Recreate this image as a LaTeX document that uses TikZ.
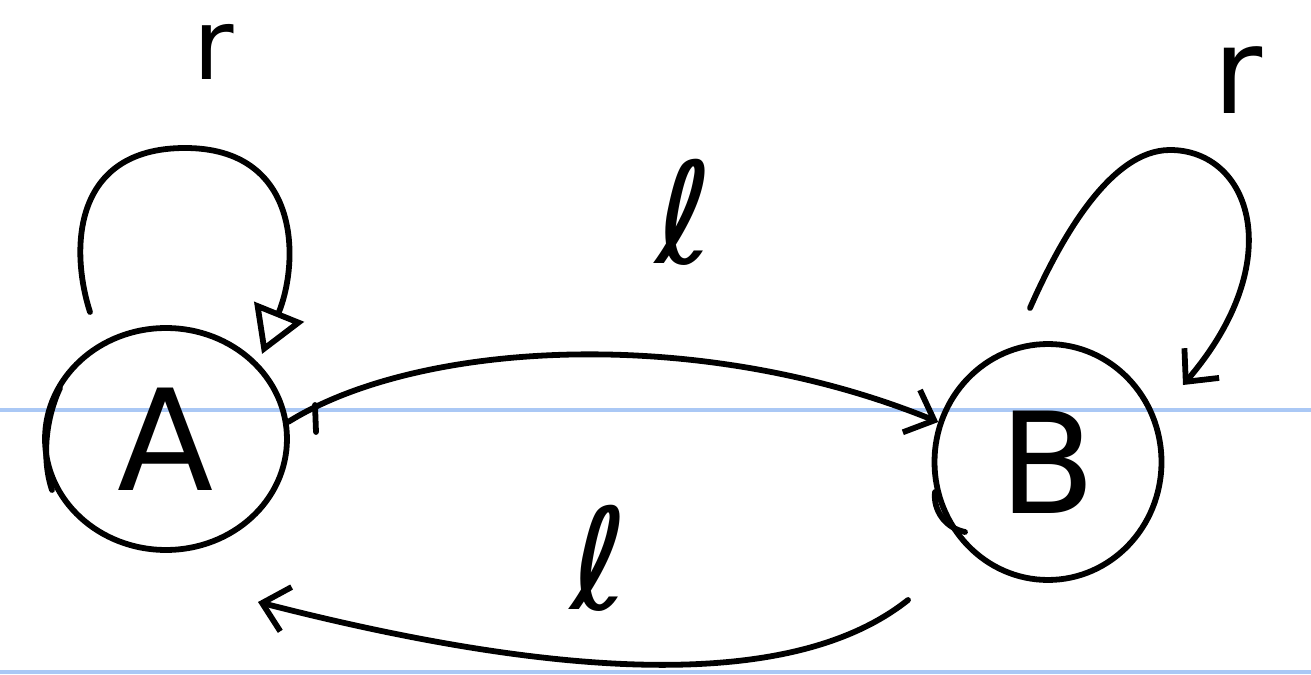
\documentclass[tikz,border=0pt]{standalone}
\usepackage{fontspec}
\setsansfont{DejaVu Sans}
\newfontfamily\lblfont{DejaVu Sans}
\usetikzlibrary{arrows.meta,shapes.geometric}
\tikzset{
  ink/.style={line width=3.3pt, line cap=round, line join=round, black},
  rule/.style={line width=1.8pt, color={rgb,255:red,170;green,200;blue,245}},
  statenode/.style={ink, draw, ellipse, inner sep=0pt, font=\sffamily\fontsize{80}{80}\selectfont},
  rlbl/.style={font=\lblfont\fontsize{56}{56}\selectfont},
  llbl/.style={font=\lblfont\fontsize{80}{80}\selectfont},
  barb/.style={-{Straight Barb[length=14pt,width=26pt,line width=3.3pt]}},
  tri/.style={-{Triangle[open,length=26pt,width=30pt,line width=3.3pt]}}
}
\begin{document}
\begin{tikzpicture}[x=0.02cm,y=-0.02cm]
\useasboundingbox (0,0) rectangle (1311,675);
% ruled lines
\draw[rule] (0,410) -- (1311,410);
\draw[rule] (0,672) -- (1311,672);
% states
\node[statenode, minimum width=4.84cm, minimum height=4.44cm] (A) at (166,439) {A};
\node[statenode, minimum width=4.54cm, minimum height=4.72cm] (B) at (1048,462) {B};
% extra strokes on circles
\draw[ink] (60,388) .. controls (45,420) and (42,460) .. (52,490);
\draw[ink] (935,492) .. controls (933,510) and (945,528) .. (965,532);
% self loop A
\coordinate (lA1) at (90,312);
\coordinate (lA2) at (262,354);
\draw[ink,tri] (lA1) .. controls (70,250) and (72,148) .. (185,148)
  .. controls (300,148) and (300,260) .. (lA2);
% self loop B
\coordinate (lB1) at (1030,308);
\coordinate (lB2) at (1183,385);
\draw[ink,barb] (lB1) .. controls (1060,240) and (1110,150) .. (1170,150)
  .. controls (1250,150) and (1290,260) .. (lB2);
% A -> B
\draw[ink,barb] (A.8) .. controls (420,340) and (700,325) .. (B.160);
\draw[ink] (315,405) -- (316,432);
% B -> A
\coordinate (bs) at (908,600);
\coordinate (ae) at (258,602);
\draw[ink,barb] (bs) .. controls (820,670) and (640,700) .. (ae);
% labels
\node[rlbl] (r1) at (214,52) {r};
\node[rlbl,font=\lblfont\fontsize{68}{68}\selectfont] (r2) at (1238,80) {r};
\node[llbl] (l1) at (685,212) {ℓ};
\node[llbl] (l2) at (600,558) {ℓ};
\end{tikzpicture}
\end{document}
